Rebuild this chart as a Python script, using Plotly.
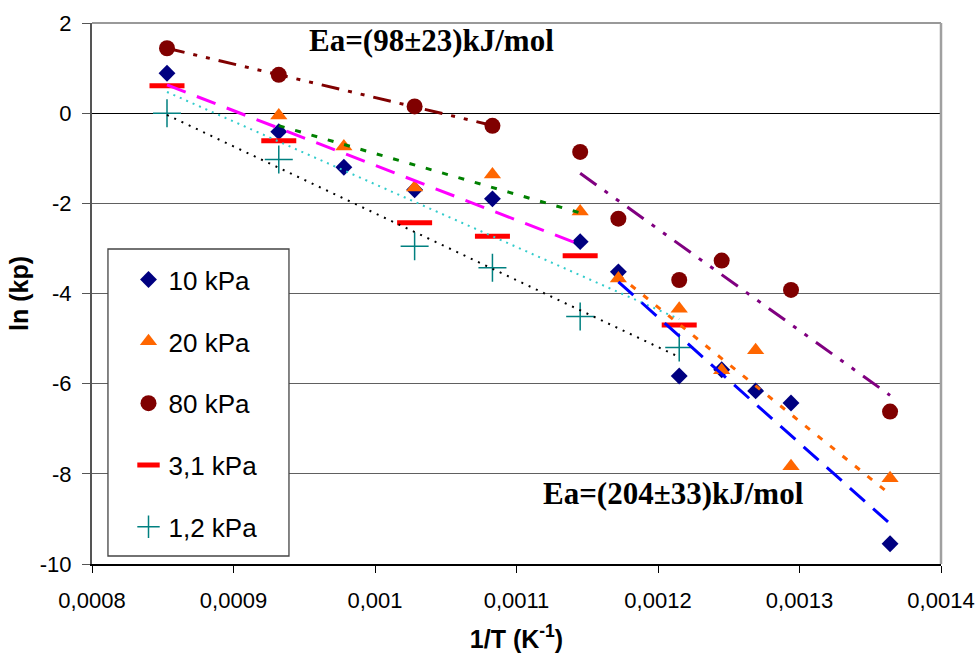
import numpy as np
import plotly.graph_objects as go

# ---------------- data ----------------
x_all = [0.000853, 0.000932, 0.000978, 0.001028, 0.001083, 0.001145,
         0.001172, 0.001215, 0.001245, 0.001269, 0.001294, 0.001364]

x_10kpa = x_all
y_10kpa = [0.885, -0.41, -1.20, -1.70, -1.90, -2.85, -3.52, -5.83, -5.69, -6.16, -6.43, -9.55]

x_20kpa = x_all[1:]
y_20kpa = [-0.05, -0.74, -1.65, -1.36, -2.18, -3.67, -4.34, -5.70, -5.26, -7.83, -8.10]

x_80kpa = [0.000853, 0.000932, 0.001028, 0.001083, 0.001145, 0.001172,
           0.001215, 0.001245, 0.001294, 0.001364]
y_80kpa = [1.44, 0.85, 0.15, -0.28, -0.86, -2.34, -3.70, -3.27, -3.92, -6.62]

x_31kpa = [0.000853, 0.000932, 0.001028, 0.001083, 0.001145, 0.001215]
y_31kpa = [0.61, -0.61, -2.43, -2.73, -3.16, -4.70]

x_12kpa = [0.000853, 0.000932, 0.001028, 0.001083, 0.001145, 0.001215]
y_12kpa = [0.0, -1.03, -2.95, -3.43, -4.51, -5.20]

x_tickvals = [0.0008, 0.0009, 0.0010, 0.0011, 0.0012, 0.0013, 0.0014]
x_ticktext = ["0,0008", "0,0009", "0,001", "0,0011", "0,0012", "0,0013", "0,0014"]
y_tickvals = [-10, -8, -6, -4, -2, 0, 2]
y_ticktext = ["-10", "-8", "-6", "-4", "-2", "0", "2"]

ea_low_text = "Ea=(98±23)kJ/mol"
ea_high_text = "Ea=(204±33)kJ/mol"

# ---------------- figure ----------------
fig = go.Figure()

series = [
    ("10 kPa", x_10kpa, y_10kpa, dict(symbol="diamond", size=13, color="#000080")),
    ("20 kPa", x_20kpa, y_20kpa, dict(symbol="triangle-up", size=15, color="#FF6600")),
    ("80 kPa", x_80kpa, y_80kpa, dict(symbol="circle", size=16, color="#800000")),
    ("3,1 kPa", x_31kpa, y_31kpa, dict(symbol="line-ew", size=25, color="#FF0000",
                                       line=dict(color="#FF0000", width=5))),
    ("1,2 kPa", x_12kpa, y_12kpa, dict(symbol="cross-thin", size=20, color="#008080",
                                       line=dict(color="#008080", width=1.5))),
]
for i, (name, xs, ys, mk) in enumerate(series):
    fig.add_trace(go.Scatter(x=xs, y=ys, mode="markers", name=name, marker=mk,
                             legendgroup=f"g{i}"))

# linear trendlines (least squares over subsets, drawn between first and last x)
def trend(xs, ys, i0, i1, color, dash, width):
    xx = np.array(xs[i0:i1 + 1])
    yy = np.array(ys[i0:i1 + 1])
    k, b = np.polyfit(xx, yy, 1)
    xe = np.array([xx.min(), xx.max()])
    fig.add_trace(go.Scatter(x=xe, y=k * xe + b, mode="lines", showlegend=False,
                             hoverinfo="skip",
                             line=dict(color=color, dash=dash, width=width)))

trend(x_80kpa, y_80kpa, 0, 3, "#800000", "18px,9px,4px,9px,4px,9px", 3)
trend(x_20kpa, y_20kpa, 0, 4, "#008000", "6px,11px", 3)
trend(x_10kpa, y_10kpa, 0, 5, "#FF00FF", "20px,12px", 3)
trend(x_31kpa, y_31kpa, 0, 5, "#33CCCC", "2px,5px", 2)
trend(x_12kpa, y_12kpa, 0, 5, "#000000", "2px,6px", 2)
trend(x_80kpa, y_80kpa, 4, 9, "#800080", "20px,10px,4px,10px,4px,10px", 3)
trend(x_10kpa, y_10kpa, 6, 11, "#0000FF", "20px,11px", 3)
trend(x_20kpa, y_20kpa, 5, 10, "#FF6600", "6px,10px", 3)

fig.add_annotation(x=0.001040, y=1.62, text="<b>" + ea_low_text + "</b>", showarrow=False,
                   font=dict(family="Liberation Serif", size=31, color="black"))
fig.add_annotation(x=0.001211, y=-8.44, text="<b>" + ea_high_text + "</b>", showarrow=False,
                   font=dict(family="Liberation Serif", size=31, color="black"))

# plot-area border (top and right, grey) and legend box
fig.add_shape(type="line", xref="paper", yref="paper", x0=0, x1=1, y0=1, y1=1,
              line=dict(color="#999999", width=2), layer="above")
fig.add_shape(type="line", xref="paper", yref="paper", x0=1, x1=1, y0=0, y1=1,
              line=dict(color="#A0A0A0", width=2.5), layer="above")
fig.add_shape(type="rect", xref="paper", yref="paper", x0=0.0188, x1=0.232, y0=0.0148, y1=0.5823,
              line=dict(color="#444444", width=1.3), fillcolor="white", layer="above")

fig.update_layout(
    width=978, height=653,
    margin=dict(l=92, r=37, t=23, b=89),
    plot_bgcolor="white", paper_bgcolor="white",
    font=dict(family="Liberation Sans, Arial", color="black"),
    showlegend=True,
    legend=dict(x=0.043, y=0.569, xanchor="left", yanchor="top",
                bgcolor="rgba(0,0,0,0)", borderwidth=0,
                font=dict(size=26, family="Liberation Sans, Arial", color="black"),
                tracegroupgap=25, traceorder="grouped"),
    xaxis=dict(range=[0.0008, 0.0014], tickvals=x_tickvals, ticktext=x_ticktext,
               automargin=False,
               showgrid=False, zeroline=False, showline=True, linecolor="black", linewidth=1.5,
               ticks="outside", ticklen=7, tickcolor="black", tickwidth=1,
               tickfont=dict(size=22), ticklabelstandoff=9,
               title=dict(text="<b>1/T (K<sup>-1</sup>)</b>", font=dict(size=25), standoff=24)),
    yaxis=dict(range=[-10, 2], tickvals=y_tickvals, ticktext=y_ticktext,
               automargin=False,
               showgrid=True, gridcolor="#606060", gridwidth=1.3,
               zeroline=True, zerolinecolor="black", zerolinewidth=1.3,
               showline=True, linecolor="#555555", linewidth=2,
               ticks="outside", ticklen=8, tickcolor="#555555", tickwidth=1,
               tickfont=dict(size=22), ticklabelstandoff=6,
               title=dict(text="<b>ln (kp)</b>", font=dict(size=25), standoff=4)),
)

fig.write_html("out.html", config={"displayModeBar": False},
               post_script="document.body.style.margin='0';document.body.style.overflow='hidden';")
